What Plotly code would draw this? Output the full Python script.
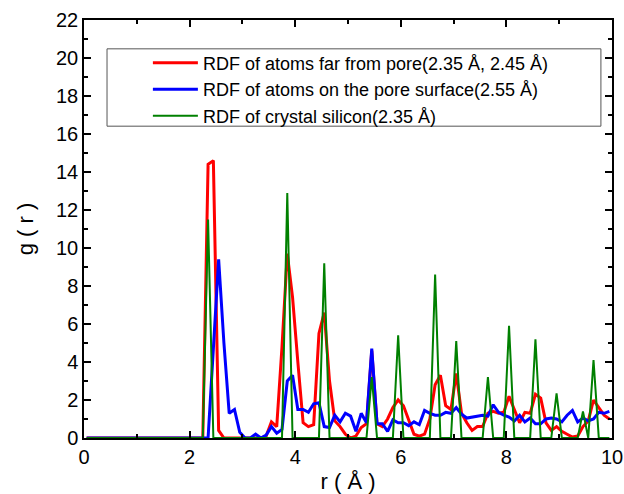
import plotly.graph_objects as go

r = [round(0.05 + 0.1 * i, 2) for i in range(100)]

g_far = [0]*23 + [14.4, 14.6, 0.4, 0] + [0]*7 + [
    0.1, 0.85, 0.6, 4.8, 9.7, 7.4, 4.0, 0.8, 0.6, 0.7,
    5.5, 6.6, 3.0, 0.9, 0.6, 0.2, 0.0, 0.1, 0.55, 0.75,
    4.6, 0.75, 0.6, 1.0, 1.6, 2.0, 1.7, 0.9, 0.2, 0.1,
    0.2, 1.0, 2.8, 3.3, 1.7, 1.5, 3.4, 1.3, 0.8, 0.4,
    0.6, 0.6, 1.3, 1.4, 1.3, 1.35, 2.2, 1.5, 0.8, 1.35,
    1.3, 2.3, 2.1, 0.8, 0.4, 0.6, 0.35, 0.2, 0.05, 0.1,
    0.6, 0.9, 2.0, 1.6, 1.2, 1.0]

g_surface = [0]*24 + [
    4.7, 9.4, 5.0, 1.3, 1.5, 0.3, 0.0, 0.0, 0.2, 0.0,
    0.15, 0.6, 0.25, 0.45, 3.0, 3.3, 1.5, 1.5, 1.35, 1.8,
    1.85, 0.6, 0.55, 1.2, 0.85, 1.3, 1.15, 0.35, 1.3, 0.8,
    4.7, 0.75, 0.75, 0.35, 0.95, 0.8, 0.8, 0.65, 0.85, 0.7,
    1.45, 1.3, 1.2, 1.2, 1.35, 1.3, 1.6, 1.25, 1.05, 1.1,
    1.15, 1.2, 1.15, 1.75, 1.35, 1.2, 1.1, 0.9, 1.2, 0.85,
    1.05, 0.75, 0.75, 1.0, 1.05, 1.0, 0.85, 1.2, 1.45, 0.85,
    1.05, 0.9, 1.0, 1.35, 1.3, 1.4]

g_crystal = [0]*100
crystal_peaks = {23: 11.5, 38: 12.9, 45: 9.2, 54: 3.2, 59: 5.4, 66: 8.6,
                 70: 5.1, 76: 3.2, 80: 5.9, 85: 5.2, 89: 2.35, 94: 1.4, 96: 4.1}
for k, v in crystal_peaks.items():
    g_crystal[k] = v

names = ["RDF of atoms far from pore(2.35 Å, 2.45 Å)",
         "RDF of atoms on the pore surface(2.55 Å)",
         "RDF of crystal silicon(2.35 Å)"]
colors = ["#ff0000", "#0000ff", "#008000"]
widths = [3, 3, 2]

FONT = "Liberation Sans, Arial"

fig = go.Figure()
for y, n, c, w in zip([g_far, g_surface, g_crystal], names, colors, widths):
    fig.add_trace(go.Scatter(x=r, y=y, mode="lines", name=n,
                             line=dict(color=c, width=w)))

axis_common = dict(showline=True, linecolor="black", linewidth=1.5, mirror="allticks",
                   ticks="inside", ticklen=7, tickwidth=1.5, tickcolor="black",
                   showgrid=False, zeroline=False, automargin=False,
                   tickfont=dict(family=FONT, size=20, color="black"))

fig.update_xaxes(range=[0, 10], dtick=2, tick0=0,
                 minor=dict(dtick=1, ticks="inside", ticklen=4, tickwidth=1.5, tickcolor="black"),
                 title=dict(text="r ( Å )", font=dict(family=FONT, size=22, color="black"),
                            standoff=18),
                 **axis_common)
fig.update_yaxes(range=[0, 22], dtick=2, tick0=0,
                 minor=dict(dtick=1, ticks="inside", ticklen=4, tickwidth=1.5, tickcolor="black"),
                 title=dict(text="g ( r )", font=dict(family=FONT, size=22, color="black"),
                            standoff=16),
                 **axis_common)

fig.add_shape(type="rect", xref="paper", yref="paper",
              x0=0.0436, x1=0.979, y0=0.746, y1=0.931,
              line=dict(color="#555555", width=1), fillcolor="rgba(0,0,0,0)")

fig.update_layout(
    width=624, height=494,
    margin=dict(l=84, r=12, t=20, b=56),
    plot_bgcolor="white", paper_bgcolor="white",
    legend=dict(x=0.121, y=0.941, xanchor="left", yanchor="top",
                bgcolor="rgba(0,0,0,0)", borderwidth=0, itemwidth=45,
                font=dict(family=FONT, size=18, color="black"),
                tracegroupgap=0),
    showlegend=True,
)

fig.write_html("out.html", config={"displayModeBar": False},
               post_script="document.body.style.margin='0';")
